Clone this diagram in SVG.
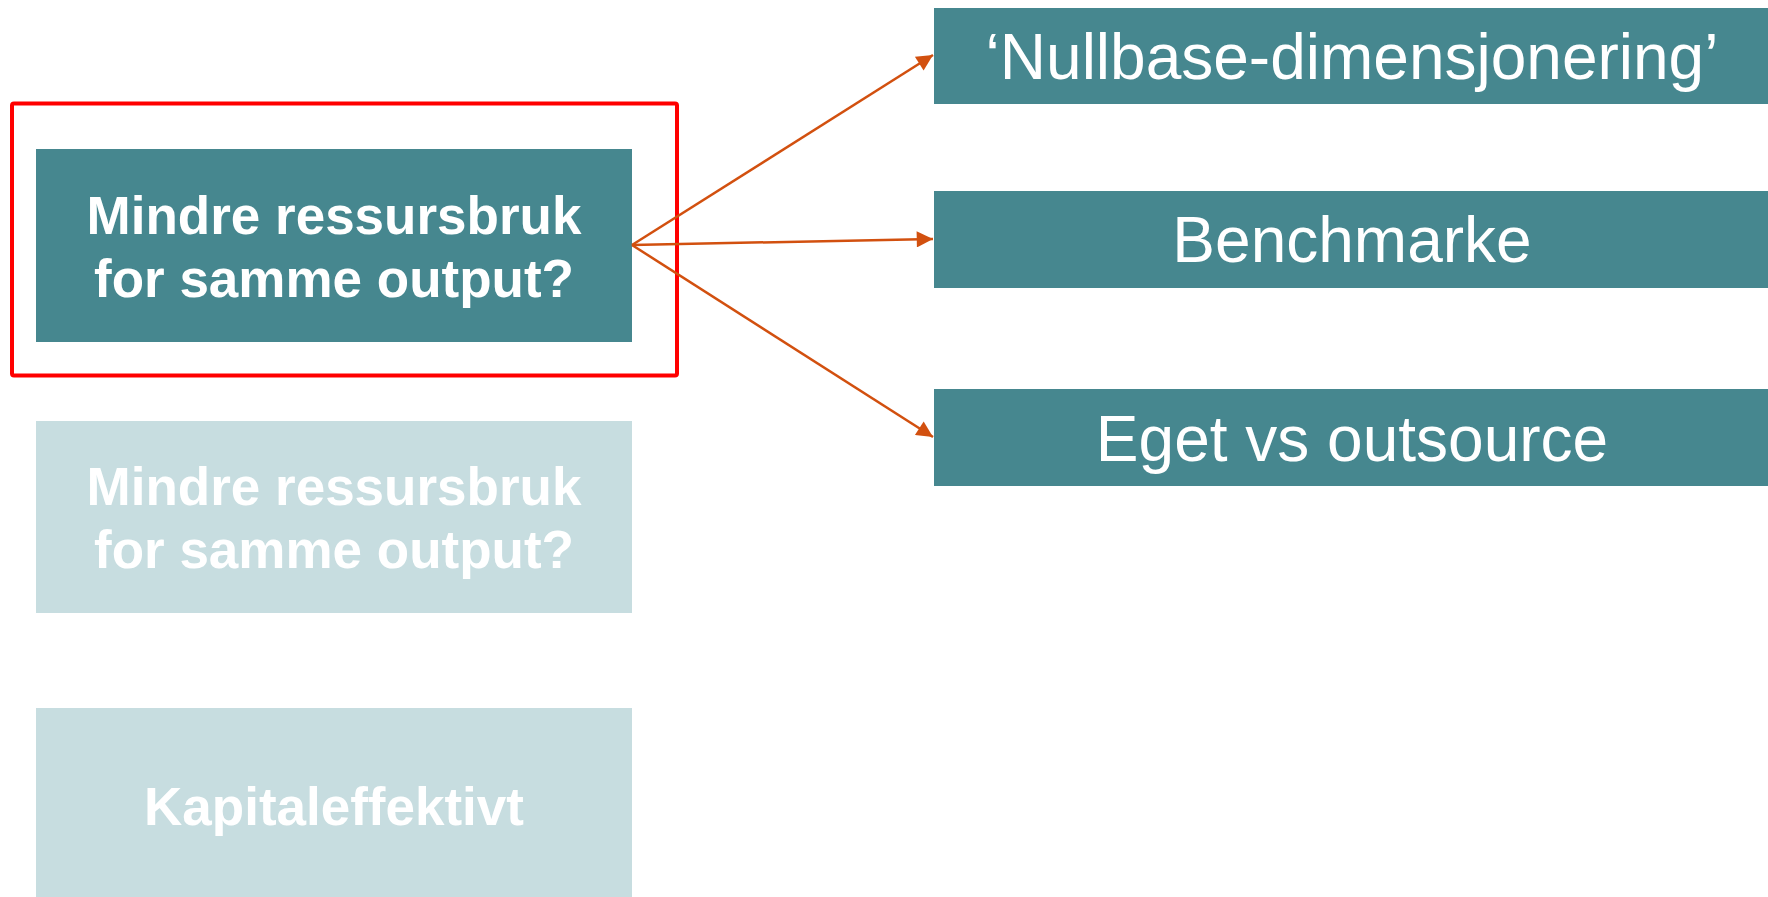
<svg xmlns="http://www.w3.org/2000/svg" width="1768" height="897" viewBox="0 0 1768 897">
<style>
.dark{fill:#46878F}
.light{fill:#C7DDE0}
.bt{font-family:"Liberation Sans",Arial,sans-serif;font-weight:bold;font-size:53px;fill:#FFFFFF;text-anchor:middle}
.rt{font-family:"Liberation Sans",Arial,sans-serif;font-size:64px;fill:#FFFFFF;text-anchor:middle}
.conn{stroke:#D2500F;stroke-width:2.5;fill:none}
</style>
<defs>
<marker id="ah" viewBox="0 0 10 10" refX="10" refY="5" markerWidth="7.5" markerHeight="6.5" markerUnits="strokeWidth" orient="auto">
<path d="M0,0 L10,5 L0,10 z" fill="#D2500F"/>
</marker>
</defs>
<rect width="1768" height="897" fill="#FFFFFF"/>
<g id="highlight">
<rect x="12" y="103.5" width="665" height="272" fill="none" stroke="#FF0000" stroke-width="4" rx="2"/>
</g>
<g id="node-left1">
<rect class="dark" x="36" y="149" width="596" height="193"/>
<text class="bt" x="334" y="233.5">Mindre ressursbruk</text>
<text class="bt" x="334" y="296.5">for samme output?</text>
</g>
<g id="node-left2">
<rect class="light" x="36" y="421" width="596" height="192"/>
<text class="bt" x="334" y="505">Mindre ressursbruk</text>
<text class="bt" x="334" y="568">for samme output?</text>
</g>
<g id="node-left3">
<rect class="light" x="36" y="708" width="596" height="189"/>
<text class="bt" x="334" y="825">Kapitaleffektivt</text>
</g>
<g id="node-nullbase">
<rect class="dark" x="934" y="8" width="834" height="96"/>
<text class="rt" x="1352" y="79">‘Nullbase-dimensjonering’</text>
</g>
<g id="node-benchmarke">
<rect class="dark" x="934" y="191" width="834" height="97"/>
<text class="rt" x="1352" y="262">Benchmarke</text>
</g>
<g id="node-eget">
<rect class="dark" x="934" y="389" width="834" height="97"/>
<text class="rt" x="1352" y="461">Eget vs outsource</text>
</g>
<g id="connectors">
<line class="conn" x1="632" y1="245" x2="933" y2="55" marker-end="url(#ah)"/>
<line class="conn" x1="632" y1="245" x2="933" y2="239" marker-end="url(#ah)"/>
<line class="conn" x1="632" y1="245" x2="933" y2="437" marker-end="url(#ah)"/>
</g>
</svg>
